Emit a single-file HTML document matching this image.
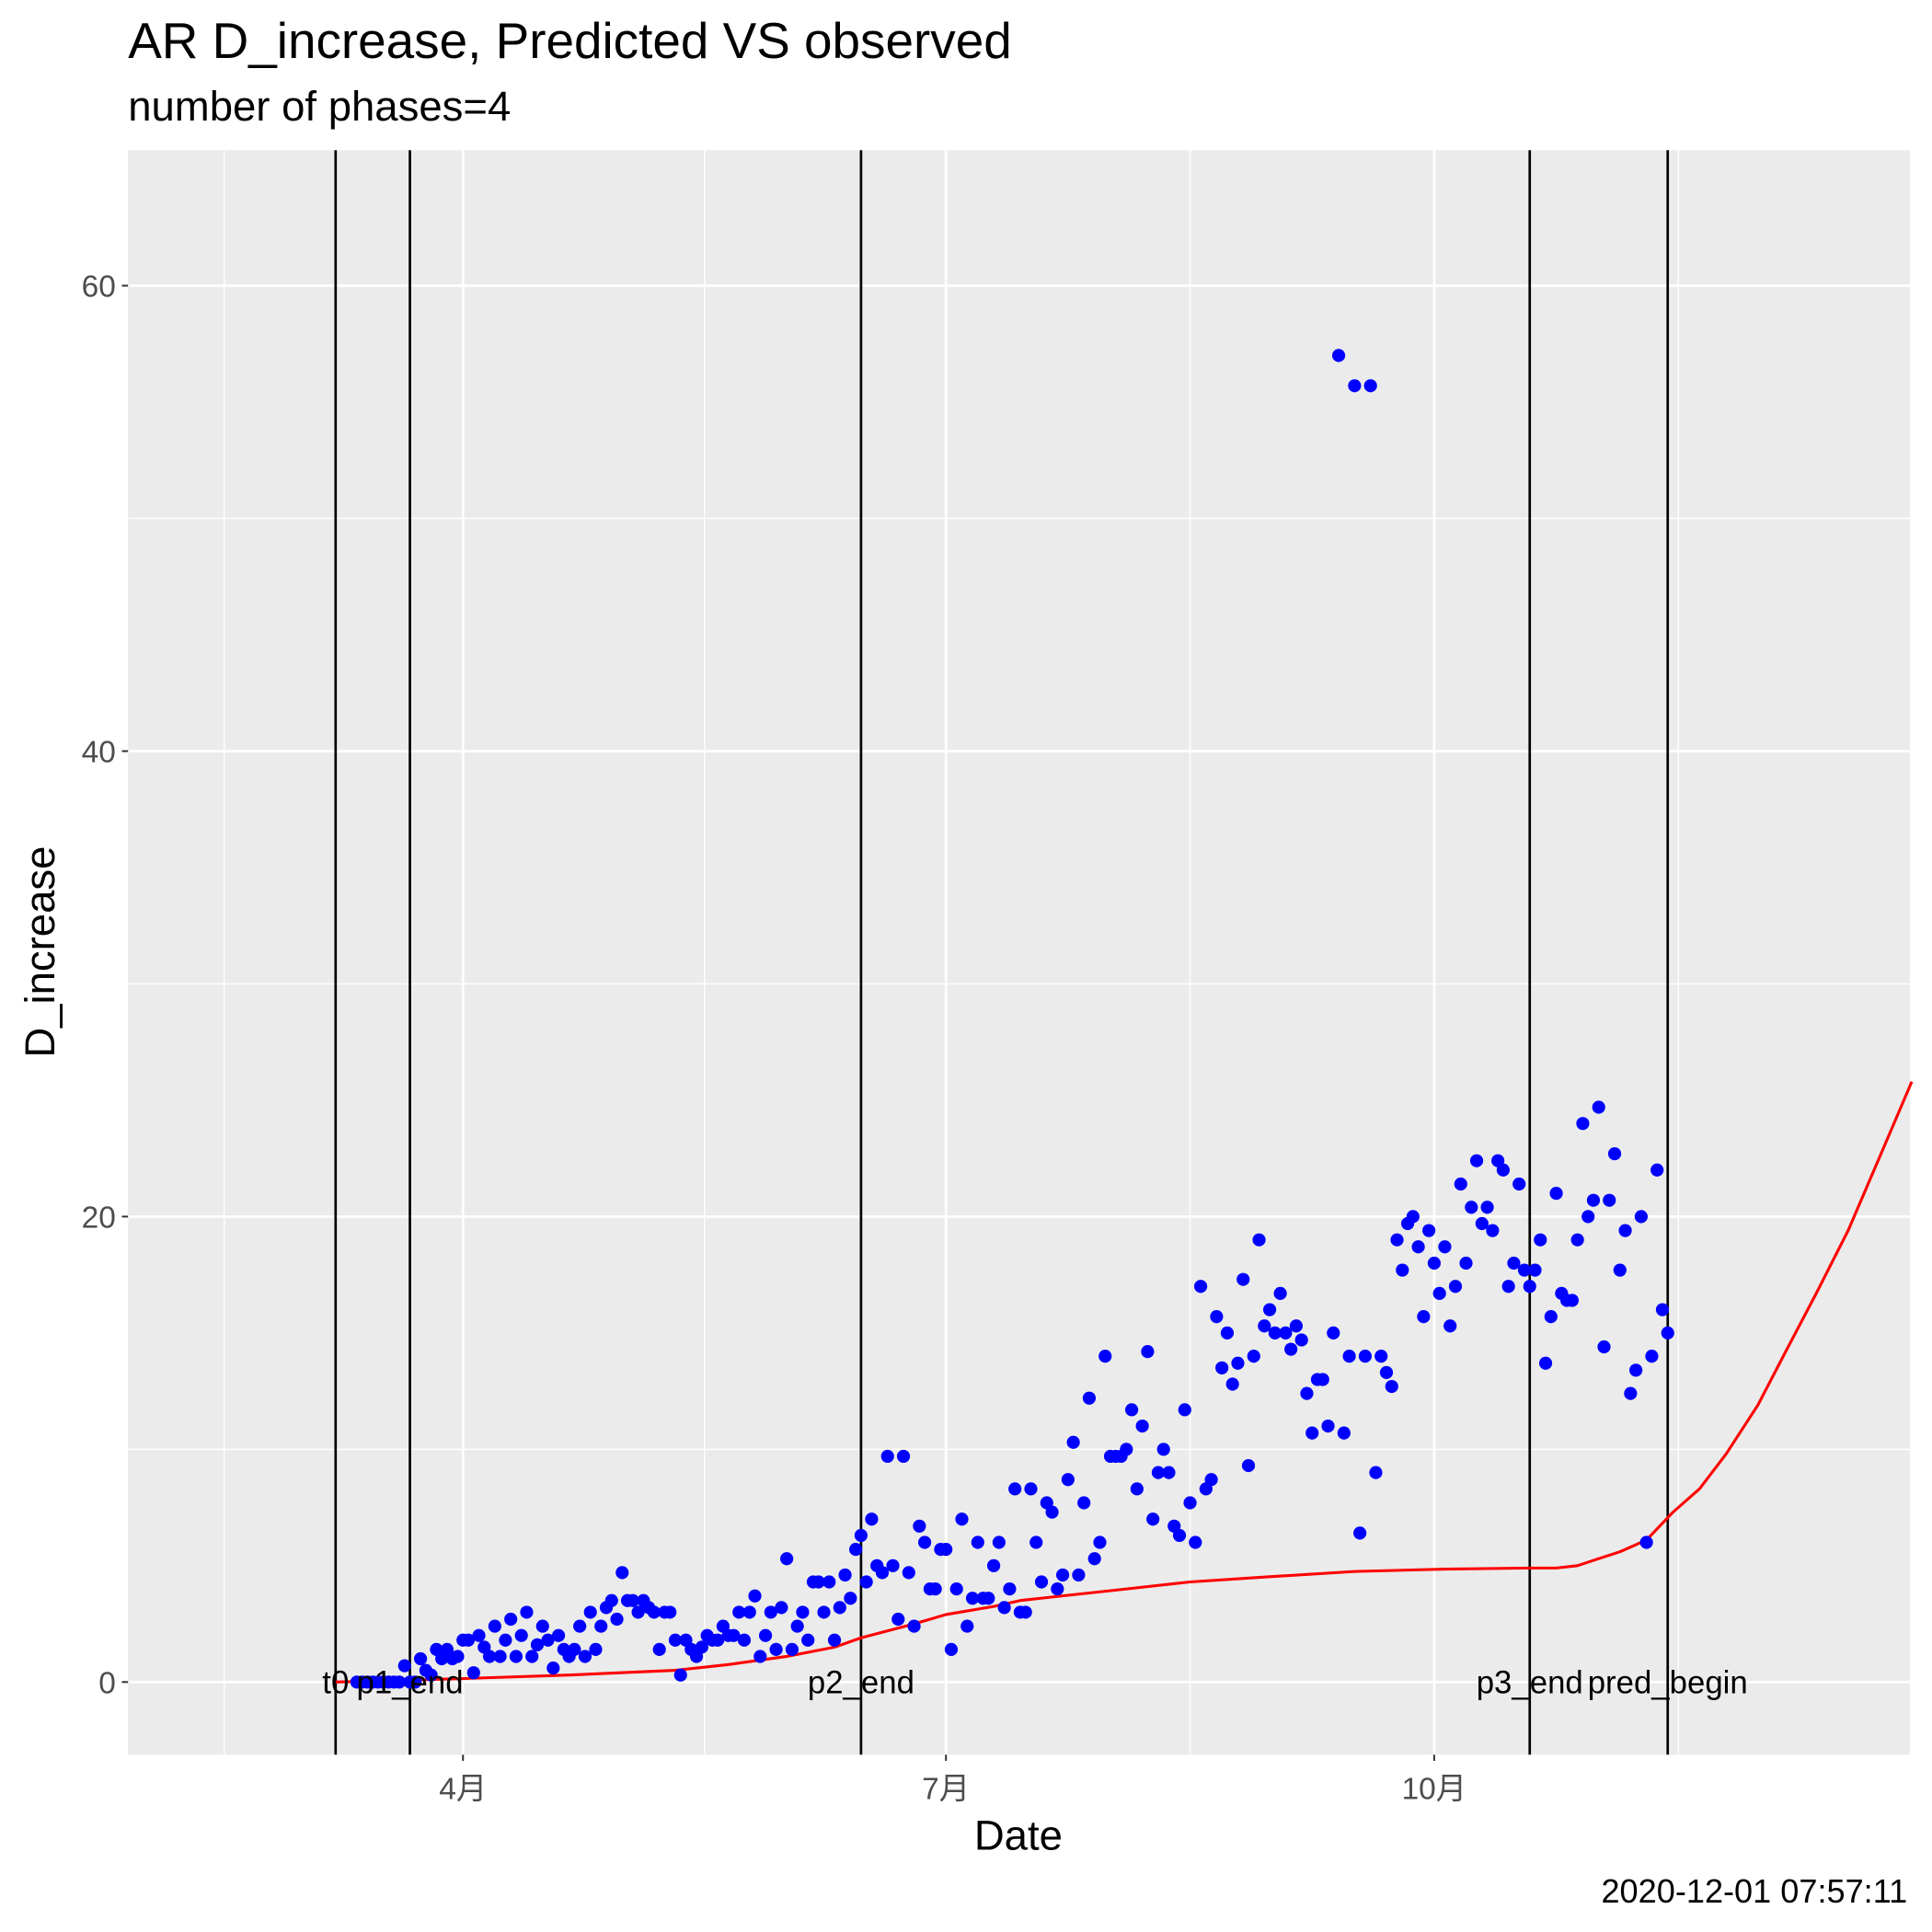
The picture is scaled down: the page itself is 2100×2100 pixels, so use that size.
<!DOCTYPE html>
<html><head><meta charset="utf-8"><style>
html,body{margin:0;padding:0;background:#fff;}
svg{display:block;font-family:"Liberation Sans","Noto Sans CJK SC",sans-serif;}
</style></head><body>
<svg id="chart" width="2100" height="2100" viewBox="0 0 1569 1569" xmlns="http://www.w3.org/2000/svg">
<rect x="0" y="0" width="1569" height="1569" fill="#fff"/>
<text x="104" y="47" font-size="41" fill="#000">AR D_increase, Predicted VS observed</text>
<text x="104" y="98" font-size="34" fill="#000">number of phases=4</text>
<rect x="104" y="122" width="1447" height="1303" fill="#ebebeb"/>
<g id="grid"></g>
<g id="vlines"></g>
<g id="pred"></g>
<g id="obs"></g>
<g id="vlabels"></g>
<g id="axes"></g>
<text x="827" y="1502" font-size="34" text-anchor="middle" fill="#000">Date</text>
<text transform="translate(44,773) rotate(-90)" font-size="34" text-anchor="middle" fill="#000">D_increase</text>
<text x="1549" y="1545" font-size="27" text-anchor="end" fill="#000">2020-12-01 07:57:11</text>
</svg>
<script>
// x in days relative to April 1
const xTickDays = [0, 91, 183];
const xTickLabels = ["4月", "7月", "10月"];
const xMinorDays = [-45, 45.5, 137, 229];
const yTicks = [0, 20, 40, 60];
const yMinor = [10, 30, 50];
const phaseDays = [-24, -10, 75, 201, 227];
const phaseLabels = ["t0", "p1_end", "p2_end", "p3_end", "pred_begin"];
const obsStartDay = -20;
const obsValues = [0,0,0,0,0,0,0,0,0,0.7,0,0,
1.0,0.5,0.3,1.4,1.0,1.4,1.0,1.1,1.8,1.8,0.4,2.0,1.5,1.1,2.4,1.1,1.8,2.7,1.1,2.0,3.0,1.1,1.6,2.4,1.8,0.6,2.0,1.4,1.1,1.4,2.4,1.1,3.0,1.4,2.4,3.2,3.5,2.7,4.7,3.5,3.5,3.0,3.5,3.2,3.0,1.4,3.0,
3.0,1.8,0.3,1.8,1.4,1.1,1.5,2.0,1.8,1.8,2.4,2.0,2.0,3.0,1.8,3.0,3.7,1.1,2.0,3.0,1.4,3.2,5.3,1.4,2.4,3.0,1.8,4.3,4.3,3.0,4.3,1.8,3.2,4.6,3.6,5.7,6.3,4.3,7.0,5.0,4.7,9.7,5.0,2.7,9.7,4.7,2.4,6.7,6.0,4.0,4.0,5.7,5.7,1.4,4.0,7.0,2.4,3.6,6.0,3.6,3.6,5.0,6.0,3.2,4.0,8.3,3.0,3.0,8.3,6.0,4.3,7.7,7.3,4.0,4.6,8.7,10.3,4.6,7.7,12.2,5.3,6.0,14.0,9.7,9.7,9.7,10.0,11.7,8.3,11.0,14.2,7.0,9.0,10.0,9.0,6.7,6.3,11.7,7.7,6.0,17.0,8.3,8.7,15.7,13.5,15.0,12.8,13.7,17.3,9.3,14.0,19.0,15.3,16.0,15.0,16.7,15.0,14.3,15.3,14.7,12.4,10.7,13.0,13.0,11.0,15.0,57.0,10.7,14.0,55.7,6.4,14.0,55.7,9.0,14.0,13.3,12.7,19.0,17.7,19.7,20.0,18.7,15.7,19.4,18.0,16.7,18.7,15.3,17.0,21.4,18.0,20.4,22.4,19.7,20.4,19.4,22.4,22.0,17.0,18.0,21.4,17.7,17.0,17.7,19.0,13.7,15.7,21.0,16.7,16.4,16.4,19.0,24.0,20.0,20.7,24.7,14.4,20.7,22.7,17.7,19.4,12.4,13.4,20.0,6.0,14.0,22.0,16.0,15.0];
const predDays = [-24,0,20,40,50,61,70,75,85,91,100,105,115,125,137,150,168,185,201,206,210,214,218,223,228,233,238,244,249,255,261,267,273];
const predValues = [0,0.15,0.3,0.5,0.75,1.1,1.5,1.9,2.5,2.9,3.25,3.5,3.75,4.0,4.3,4.5,4.75,4.85,4.9,4.9,5.0,5.3,5.6,6.1,7.3,8.3,9.8,11.9,14.1,16.7,19.4,22.6,25.8];

const NS = "http://www.w3.org/2000/svg";
const PL = 104, PR = 1551, PT = 122, PB = 1425;
function xs(d){ return 376 + d * 4.31; }
function ys(v){ return 1366 - v * 18.9; }
function mk(tag, attrs, parent){ const e = document.createElementNS(NS, tag); for (const k in attrs) e.setAttribute(k, attrs[k]); parent.appendChild(e); return e; }

const grid = document.getElementById('grid');
yMinor.forEach(v => { const l = mk('line', {x1:PL, x2:PR, y1:ys(v), y2:ys(v), stroke:'#fff', 'stroke-width':1}, grid);
  
   });
xMinorDays.forEach(d => { const x = xs(d); if (x < PL || x > PR) return; const l = mk('line', {x1:x, x2:x, y1:PT, y2:PB, stroke:'#fff', 'stroke-width':1}, grid);
  
   });
yTicks.forEach(v => { const l = mk('line', {x1:PL, x2:PR, y1:ys(v), y2:ys(v), stroke:'#fff', 'stroke-width':2}, grid);
  
   });
xTickDays.forEach(d => { const l = mk('line', {x1:xs(d), x2:xs(d), y1:PT, y2:PB, stroke:'#fff', 'stroke-width':2}, grid);
  
   });

const vl = document.getElementById('vlines');
const vlab = document.getElementById('vlabels');
phaseDays.forEach((d, i) => {
  const l = mk('line', {x1:xs(d), x2:xs(d), y1:PT, y2:PB, stroke:'#000', 'stroke-width':2}, vl);
  
  
  const t = mk('text', {x:xs(d), y:ys(0) + 9, 'font-size':26, 'text-anchor':'middle', fill:'#000'}, vlab);
  t.textContent = phaseLabels[i];
  
  
});

const pred = document.getElementById('pred');
let dstr = '';
predDays.forEach((d, i) => { dstr += (i ? 'L' : 'M') + xs(d).toFixed(1) + ',' + ys(predValues[i]).toFixed(1); });
const pl = mk('path', {d:dstr, fill:'none', stroke:'#ff0000', 'stroke-width':2.3, 'stroke-linejoin':'round'}, pred);



const obs = document.getElementById('obs');
obsValues.forEach((v, i) => {
  const c = mk('circle', {cx:xs(obsStartDay + i), cy:ys(v), r:5.3, fill:'#0000ff'}, obs);
  
  
});

const axes = document.getElementById('axes');
yTicks.forEach(v => {
  const tk = mk('line', {x1:PL - 5, x2:PL, y1:ys(v), y2:ys(v), stroke:'#333', 'stroke-width':1.5}, axes);
  
  
  const t = mk('text', {x:PL - 10, y:ys(v) + 9, 'font-size':25, 'text-anchor':'end', fill:'#4d4d4d'}, axes);
  t.textContent = v;
  
  
});
xTickDays.forEach((d, i) => {
  const tk = mk('line', {x1:xs(d), x2:xs(d), y1:PB, y2:PB + 5, stroke:'#333', 'stroke-width':1.5}, axes);
  
  
  const t = mk('text', {x:xs(d), y:PB + 36, 'font-size':25, 'text-anchor':'middle', fill:'#4d4d4d'}, axes);
  t.textContent = xTickLabels[i];
  
  
});
</script>
</body></html>
